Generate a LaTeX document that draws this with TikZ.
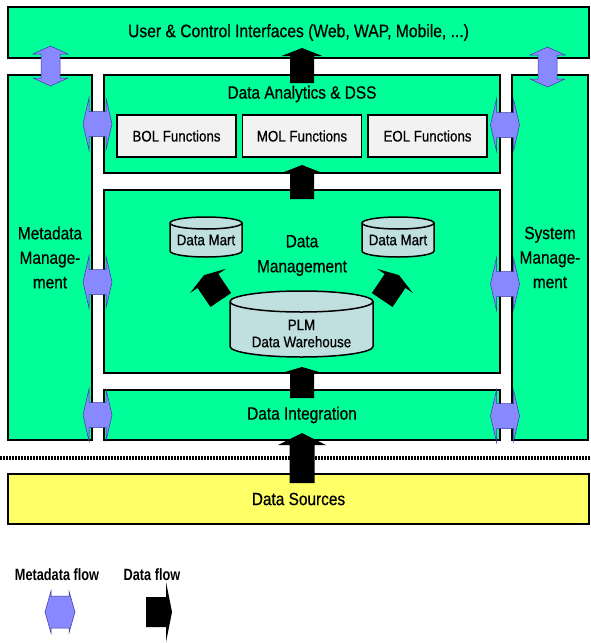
\documentclass[tikz,border=0pt]{standalone}
\usepackage{fontspec}
\setmainfont{Liberation Sans}[FakeStretch=0.87, FakeBold=0.6]
\newfontfamily\legendfont{Liberation Sans}[FakeStretch=0.78]

\definecolor{layergreen}{HTML}{00FF99}
\definecolor{sourceyellow}{HTML}{FFFF66}
\definecolor{funcgrey}{HTML}{F2F2F2}
\definecolor{storeblue}{HTML}{C0E0E0}
\definecolor{metablue}{HTML}{8888FF}
\definecolor{metaedge}{HTML}{3A3AA0}

\tikzset{
	layer/.style={draw=black, line width=2pt, fill=layergreen, inner sep=0pt,
		font=\fontsize{17.7}{24.5}\selectfont, align=center},
	func/.style={draw=black, line width=1.7pt, fill=funcgrey, inner sep=0pt,
		minimum width=119pt, minimum height=42pt, font=\fontsize{15.3}{17}\selectfont},
	lbl/.style={font=\fontsize{17.7}{25}\selectfont, align=center},
	smalllbl/.style={font=\fontsize{15.3}{17}\selectfont, align=center},
	keylbl/.style={font=\legendfont\bfseries\fontsize{16.3}{18}\selectfont},
	% double headed metadata arrow: length, head length, head width, shaft width
	pics/metaflow/.style n args={4}{code={
		\filldraw[fill=metablue, draw=metaedge, line width=0.5pt]
			({-#1/2},0) -- ({-#1/2+#2},{#3/2}) -- ({-#1/2+#2},{#4/2})
			-- ({#1/2-#2},{#4/2}) -- ({#1/2-#2},{#3/2}) -- ({#1/2},0)
			-- ({#1/2-#2},{-#3/2}) -- ({#1/2-#2},{-#4/2})
			-- ({-#1/2+#2},{-#4/2}) -- ({-#1/2+#2},{-#3/2}) -- cycle;
	}},
	% block data arrow from its tail: length, head length, head width, shaft width
	pics/dataflow/.style n args={4}{code={
		\fill[black] (0,{-#4/2}) -- ({#1-#2},{-#4/2}) -- ({#1-#2},{-#3/2})
			-- (#1,0) -- ({#1-#2},{#3/2}) -- ({#1-#2},{#4/2}) -- (0,{#4/2}) -- cycle;
	}},
	% data store: width, height, radius of the lid
	pics/store/.style n args={3}{code={
		\filldraw[fill=storeblue, draw=black, line width=1.5pt]
			({-#1/2},{-#2/2+#3}) -- ({-#1/2},{#2/2-#3})
			arc[start angle=180, end angle=0, x radius=#1/2, y radius=#3]
			-- ({#1/2},{-#2/2+#3})
			arc[start angle=0, end angle=-180, x radius=#1/2, y radius=#3] -- cycle;
		\draw[line width=1.5pt] ({-#1/2},{-#2/2+#3})
			arc[start angle=180, end angle=0, x radius=#1/2, y radius=#3];
	}}
}

\begin{document}
\begin{tikzpicture}[x=1pt, y=-1pt]
	\useasboundingbox (0,0) rectangle (591,643);

	% Layers
	\node[layer, minimum width=581pt, minimum height=51pt, font=\fontsize{18}{22}\selectfont]
		(ui) at (298.5,32.5) {User \& Control Interfaces (Web, WAP, Mobile, ...)};
	\node[layer, minimum width=84pt, minimum height=365pt] (meta) at (50,257.5) {Metadata\\Manage-\\ment};
	\node[layer, minimum width=76pt, minimum height=365pt] (sys) at (550,257.5) {System\\Manage-\\ment};

	%Data analytics
	\node[layer, minimum width=396pt, minimum height=98pt] (dss) at (302,124) {};
	\node[lbl] (dsslabel) at (302,94) {Data Analytics \& DSS};
	\node[func] (bol) at (176.5,136) {BOL Functions};
	\node[func] (mol) at (302,136) {MOL Functions};
	\node[func] (eol) at (427.5,136) {EOL Functions};

	%Data management
	\node[layer, minimum width=396pt, minimum height=183pt] (dm) at (302,281.5) {};
	\node[lbl] (dmlabel) at (302,255.5) {Data\\Management};
	\pic at (206,237) {store={72}{40}{6}};
	\node[smalllbl] (martleft) at (206,240) {Data Mart};
	\pic at (398,237) {store={72}{40}{6}};
	\node[smalllbl] (martright) at (398,240) {Data Mart};
	\pic at (301.5,324) {store={143}{66}{10.5}};
	\node[smalllbl] (warehouse) at (301.5,333.5) {PLM\\Data Warehouse};

	%Data integration
	\node[layer, minimum width=396pt, minimum height=50pt] (di) at (302,415) {Data Integration};

	\draw[line width=4pt, dash pattern=on 2pt off 1pt] (0,458) -- (591,458);

	\node[layer, fill=sourceyellow, minimum width=581pt, minimum height=50pt] (ds) at (298.5,499) {Data Sources};

	% Data flow
	\pic[rotate=90] at (302,83) {dataflow={35}{8}{41}{24}};
	\pic[rotate=90] at (302,199) {dataflow={34}{8}{41}{24}};
	\pic[rotate=90] at (302,398) {dataflow={31}{6}{41}{24}};
	\pic[rotate=90] at (302,483) {dataflow={50}{12}{48}{25}};
	\pic[rotate=124] at (220.8,300) {dataflow={30}{7}{43}{25}};
	\pic[rotate=56] at (382.2,300) {dataflow={30}{7}{43}{25}};

	% Metadata flow
	\pic[rotate=90] at (50.5,66) {metaflow={40}{8}{35}{19}};
	\pic[rotate=90] at (547.5,67) {metaflow={40}{8}{35}{19}};
	\foreach \y in {124,282,415} {
		\pic at (97.5,\y) {metaflow={29}{6}{52}{25}};
	}
	\foreach \y in {125,284,416} {
		\pic at (505,\y) {metaflow={29}{6}{52}{25}};
	}

	% Legend
	\node[keylbl] (metakey) at (57,575) {Metadata flow};
	\node[keylbl] (datakey) at (152,575) {Data flow};
	\pic at (60,612) {metaflow={30}{6}{42}{32}};
	\pic at (146,612) {dataflow={26}{6}{60}{30}};

\end{tikzpicture}
\end{document}
